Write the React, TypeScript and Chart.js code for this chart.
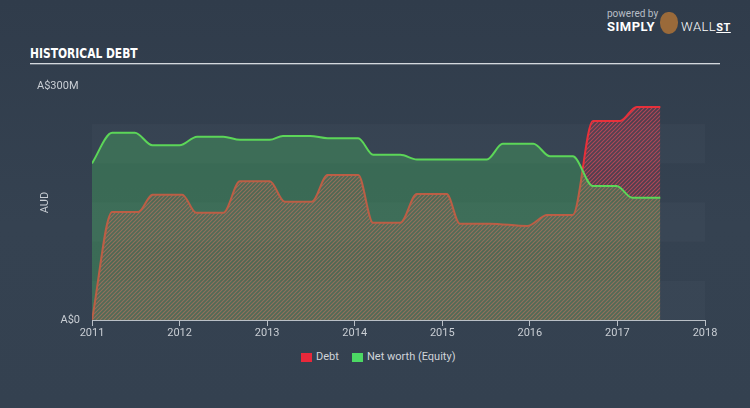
import React, { useEffect, useRef } from "react";
import { Chart, registerables } from "chart.js";

Chart.register(...registerables);

const debtYears = [2011.0, 2011.23, 2011.53, 2011.69, 2012.03, 2012.19, 2012.5, 2012.69, 2013.03, 2013.2, 2013.51, 2013.69, 2014.04, 2014.21, 2014.52, 2014.71, 2015.05, 2015.2, 2015.54, 2015.97, 2016.2, 2016.49, 2016.72, 2017.03, 2017.22, 2017.49];
const debtValues = [0, 138, 138, 160, 160, 137, 137, 177, 177, 151, 151, 185, 185, 124, 124, 161, 161, 123, 123, 120, 134, 134, 254, 254, 272, 272];

const equityYears = [2011.0, 2011.23, 2011.49, 2011.69, 2012.0, 2012.2, 2012.5, 2012.69, 2013.03, 2013.18, 2013.49, 2013.69, 2014.04, 2014.21, 2014.52, 2014.71, 2015.51, 2015.69, 2016.04, 2016.23, 2016.49, 2016.72, 2016.99, 2017.17, 2017.49];
const equityValues = [200, 239, 239, 223, 223, 234, 234, 230, 230, 235, 235, 232, 232, 211, 211, 205, 205, 225, 225, 209, 209, 171, 171, 156, 156];

const xTickYears = [2011, 2012, 2013, 2014, 2015, 2016, 2017, 2018];
const yTickValues = [0, 300];
const yTickLabels = ["A$0", "A$300M"];
const bandRanges = [[0, 50], [100, 150], [200, 250]];

const seriesNames = ["Debt", "Net worth (Equity)"];

function makeHatch(): CanvasPattern | string {
  const c = document.createElement("canvas");
  c.width = 4;
  c.height = 4;
  const g = c.getContext("2d");
  if (!g) return "rgba(200,60,80,0.4)";
  g.fillStyle = "rgba(160,60,75,0.25)";
  g.fillRect(0, 0, 4, 4);
  g.strokeStyle = "rgba(215,75,90,0.72)";
  g.lineWidth = 1.1;
  g.beginPath();
  g.moveTo(0, 4);
  g.lineTo(4, 0);
  g.moveTo(-1, 1);
  g.lineTo(1, -1);
  g.moveTo(3, 5);
  g.lineTo(5, 3);
  g.stroke();
  const p = g.createPattern(c, "repeat");
  return p || "rgba(200,60,80,0.4)";
}

const bandsPlugin = {
  id: "bands",
  beforeDatasetsDraw(chart: any) {
    const { ctx, chartArea } = chart;
    const y = chart.scales.y;
    ctx.save();
    ctx.fillStyle = "rgba(255,255,255,0.022)";
    for (const [a, b] of bandRanges) {
      const top = y.getPixelForValue(b);
      const bot = y.getPixelForValue(a);
      ctx.fillRect(chartArea.left, top, chartArea.right - chartArea.left, bot - top);
    }
    ctx.restore();
  },
};

const yLabelsPlugin = {
  id: "ylabels",
  afterDraw(chart: any) {
    const { ctx } = chart;
    const y = chart.scales.y;
    ctx.save();
    ctx.fillStyle = "#c9ced4";
    ctx.font = "11px Roboto";
    ctx.textBaseline = "middle";
    yTickValues.forEach((v, i) => {
      const py = y.getPixelForValue(v);
      if (v === 0) {
        ctx.textAlign = "right";
        ctx.fillText(yTickLabels[i], 80, py);
      } else {
        ctx.textAlign = "left";
        ctx.fillText(yTickLabels[i], 37, py + 1);
      }
    });
    const mid = (y.getPixelForValue(0) + y.getPixelForValue(300)) / 2;
    ctx.translate(45, mid);
    ctx.rotate(-Math.PI / 2);
    ctx.textAlign = "center";
    ctx.fillText("AUD", 0, 0);
    ctx.restore();
  },
};

export default function App() {
  const ref = useRef<HTMLCanvasElement | null>(null);

  useEffect(() => {
    if (!ref.current) return;
    const hatch = makeHatch();
    const chart = new Chart(ref.current, {
      type: "line",
      data: {
        datasets: [
          {
            label: seriesNames[0],
            data: debtYears.map((x, i) => ({ x, y: debtValues[i] })),
            borderColor: "rgb(232,48,58)",
            borderWidth: 2,
            backgroundColor: hatch as any,
            fill: "origin",
            pointRadius: 0,
            cubicInterpolationMode: "monotone",
            order: 2,
          },
          {
            label: seriesNames[1],
            data: equityYears.map((x, i) => ({ x, y: equityValues[i] })),
            borderColor: "rgb(92,214,88)",
            borderWidth: 2,
            backgroundColor: "rgba(76,217,100,0.28)",
            fill: "origin",
            pointRadius: 0,
            cubicInterpolationMode: "monotone",
            order: 1,
          },
        ],
      },
      options: {
        animation: false,
        responsive: false,
        devicePixelRatio: 1,
        layout: { padding: { left: 92, right: 45, top: 85, bottom: 0 } },
        plugins: {
          legend: { display: false },
          tooltip: { enabled: false },
        },
        scales: {
          x: {
            type: "linear",
            min: 2011,
            max: 2018,
            afterBuildTicks: (s: any) => {
              s.ticks = xTickYears.map((v) => ({ value: v }));
            },
            afterFit: (s: any) => {
              s.height = 30;
            },
            ticks: {
              callback: (v: any) => String(v),
              color: "#c9ced4",
              font: { family: "Roboto", size: 11 },
              padding: 1,
              maxRotation: 0,
            },
            grid: {
              drawOnChartArea: false,
              drawTicks: true,
              tickLength: 6,
              color: "#b9bfc6",
            },
            border: { display: true, color: "#b9bfc6", width: 1 },
          },
          y: {
            display: false,
            min: 0,
            max: 300,
          },
        },
      },
      plugins: [bandsPlugin, yLabelsPlugin],
    });
    return () => chart.destroy();
  }, []);

  return (
    <div
      style={{
        position: "fixed",
        left: 0,
        top: 0,
        width: 750,
        height: 408,
        overflow: "hidden",
        background: "linear-gradient(180deg, #303c4b 0%, #354251 55%, #344150 100%)",
        fontFamily: "Roboto, sans-serif",
      }}
    >
      <div style={{ position: "absolute", left: 607, top: 8, fontSize: 10, color: "#b8bec6" }}>powered by</div>
      <div style={{ position: "absolute", left: 607, top: 19, fontSize: 13, fontWeight: 700, color: "#ffffff", letterSpacing: 0.5 }}>SIMPLY</div>
      <div
        style={{
          position: "absolute",
          left: 660,
          top: 12,
          width: 18,
          height: 22,
          borderRadius: "45% 45% 50% 50%",
          background: "#9a6a3a",
        }}
      />
      <div style={{ position: "absolute", left: 681, top: 19, fontSize: 13, fontWeight: 300, color: "#ffffff", letterSpacing: 0.5 }}>
        WALL<span style={{ fontWeight: 700, textDecoration: "underline", fontSize: 11 }}>ST</span>
      </div>
      <div
        style={{
          position: "absolute",
          left: 30,
          top: 45,
          fontFamily: "'Liberation Sans Narrow', 'DejaVu Sans Condensed', sans-serif",
          fontWeight: 700,
          fontSize: 14,
          color: "#ffffff",
          transform: "scaleX(0.85)",
          transformOrigin: "left",
          whiteSpace: "nowrap",
        }}
      >
        HISTORICAL DEBT
      </div>
      <div style={{ position: "absolute", left: 30, top: 63, width: 690, height: 1, background: "#d3d8dd" }} />
      <div style={{ position: "absolute", left: 30, top: 64, width: 690, height: 1, background: "rgba(200,206,212,0.35)" }} />
      <canvas ref={ref} width={750} height={350} style={{ position: "absolute", left: 0, top: 0 }} />
      <div style={{ position: "absolute", left: 301, top: 353, width: 11, height: 9, background: "#e8283a" }} />
      <div style={{ position: "absolute", left: 316, top: 350, fontSize: 11, color: "#d0d4d9" }}>{seriesNames[0]}</div>
      <div style={{ position: "absolute", left: 352, top: 353, width: 11, height: 9, background: "#4cd964" }} />
      <div style={{ position: "absolute", left: 367, top: 350, fontSize: 11, color: "#d0d4d9" }}>{seriesNames[1]}</div>
    </div>
  );
}
